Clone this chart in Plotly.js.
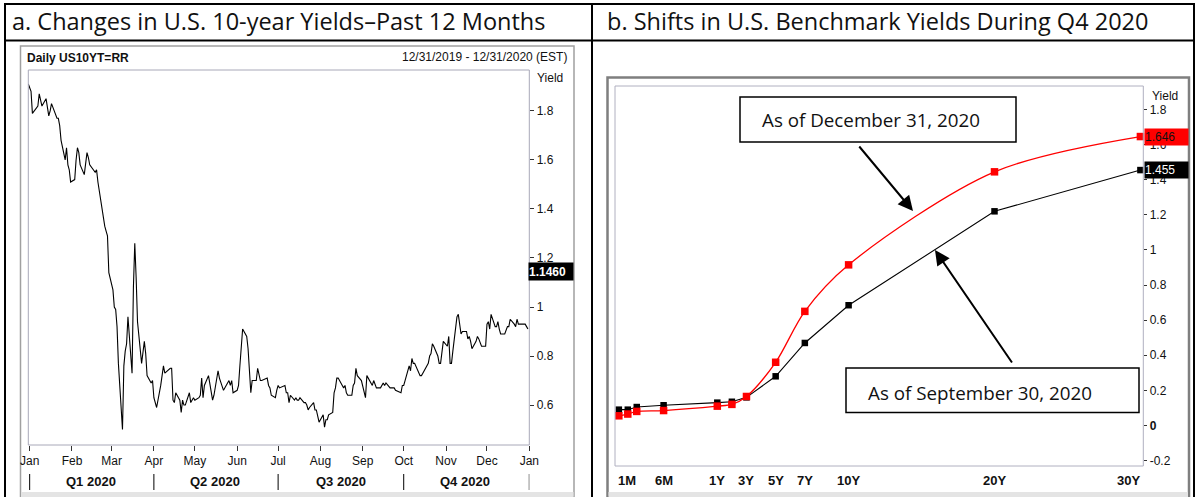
<!DOCTYPE html>
<html>
<head>
<meta charset="utf-8">
<script src="https://cdn.plot.ly/plotly-3.0.1.min.js"></script>
<style>
  html, body { margin: 0; padding: 0; background: #ffffff; }
  #chart { width: 1197px; height: 497px; }
</style>
</head>
<body>
<div id="chart"></div>
<script>
// ---------- Panel a: daily US 10-year yield, 12/31/2019 - 12/31/2020 ----------
const tradingDays = [
  '2019-12-31',
  '2020-01-02','2020-01-03','2020-01-06','2020-01-07','2020-01-08','2020-01-09','2020-01-10','2020-01-13','2020-01-14','2020-01-15','2020-01-16','2020-01-17','2020-01-21','2020-01-22','2020-01-23','2020-01-24','2020-01-27','2020-01-28','2020-01-29','2020-01-30','2020-01-31',
  '2020-02-03','2020-02-04','2020-02-05','2020-02-06','2020-02-07','2020-02-10','2020-02-11','2020-02-12','2020-02-13','2020-02-14','2020-02-18','2020-02-19','2020-02-20','2020-02-21','2020-02-24','2020-02-25','2020-02-26','2020-02-27','2020-02-28',
  '2020-03-02','2020-03-03','2020-03-04','2020-03-05','2020-03-06','2020-03-09','2020-03-10','2020-03-11','2020-03-12','2020-03-13','2020-03-16','2020-03-17','2020-03-18','2020-03-19','2020-03-20','2020-03-23','2020-03-24','2020-03-25','2020-03-26','2020-03-27','2020-03-30','2020-03-31',
  '2020-04-01','2020-04-02','2020-04-03','2020-04-06','2020-04-07','2020-04-08','2020-04-09','2020-04-13','2020-04-14','2020-04-15','2020-04-16','2020-04-17','2020-04-20','2020-04-21','2020-04-22','2020-04-23','2020-04-24','2020-04-27','2020-04-28','2020-04-29','2020-04-30',
  '2020-05-01','2020-05-04','2020-05-05','2020-05-06','2020-05-07','2020-05-08','2020-05-11','2020-05-12','2020-05-13','2020-05-14','2020-05-15','2020-05-18','2020-05-19','2020-05-20','2020-05-21','2020-05-22','2020-05-26','2020-05-27','2020-05-28','2020-05-29',
  '2020-06-01','2020-06-02','2020-06-03','2020-06-04','2020-06-05','2020-06-08','2020-06-09','2020-06-10','2020-06-11','2020-06-12','2020-06-15','2020-06-16','2020-06-17','2020-06-18','2020-06-19','2020-06-22','2020-06-23','2020-06-24','2020-06-25','2020-06-26','2020-06-29','2020-06-30',
  '2020-07-01','2020-07-02','2020-07-06','2020-07-07','2020-07-08','2020-07-09','2020-07-10','2020-07-13','2020-07-14','2020-07-15','2020-07-16','2020-07-17','2020-07-20','2020-07-21','2020-07-22','2020-07-23','2020-07-24','2020-07-27','2020-07-28','2020-07-29','2020-07-30','2020-07-31',
  '2020-08-03','2020-08-04','2020-08-05','2020-08-06','2020-08-07','2020-08-10','2020-08-11','2020-08-12','2020-08-13','2020-08-14','2020-08-17','2020-08-18','2020-08-19','2020-08-20','2020-08-21','2020-08-24','2020-08-25','2020-08-26','2020-08-27','2020-08-28','2020-08-31',
  '2020-09-01','2020-09-02','2020-09-03','2020-09-04','2020-09-08','2020-09-09','2020-09-10','2020-09-11','2020-09-14','2020-09-15','2020-09-16','2020-09-17','2020-09-18','2020-09-21','2020-09-22','2020-09-23','2020-09-24','2020-09-25','2020-09-28','2020-09-29','2020-09-30',
  '2020-10-01','2020-10-02','2020-10-05','2020-10-06','2020-10-07','2020-10-08','2020-10-09','2020-10-13','2020-10-14','2020-10-15','2020-10-16','2020-10-19','2020-10-20','2020-10-21','2020-10-22','2020-10-23','2020-10-26','2020-10-27','2020-10-28','2020-10-29','2020-10-30',
  '2020-11-02','2020-11-03','2020-11-04','2020-11-05','2020-11-06','2020-11-09','2020-11-10','2020-11-12','2020-11-13','2020-11-16','2020-11-17','2020-11-18','2020-11-19','2020-11-20','2020-11-23','2020-11-24','2020-11-25','2020-11-27','2020-11-30',
  '2020-12-01','2020-12-02','2020-12-03','2020-12-04','2020-12-07','2020-12-08','2020-12-09','2020-12-10','2020-12-11','2020-12-14','2020-12-15','2020-12-16','2020-12-17','2020-12-18','2020-12-21','2020-12-22','2020-12-23','2020-12-24','2020-12-28','2020-12-29','2020-12-30','2020-12-31'
];
const dailyYield = [
  1.91,
  1.88,1.79,1.81,1.82,1.87,1.85,1.82,1.85,1.81,1.78,1.80,1.83,1.77,1.77,1.74,1.68,1.60,1.65,1.58,1.56,1.51,
  1.52,1.60,1.65,1.63,1.58,1.54,1.58,1.63,1.61,1.58,1.55,1.56,1.51,1.47,1.37,1.33,1.31,1.29,1.14,
  1.07,1.00,0.99,0.92,0.77,0.50,0.76,0.82,0.85,0.96,0.73,1.08,1.26,1.12,0.94,0.77,0.82,0.86,0.81,0.72,0.69,0.70,
  0.63,0.61,0.59,0.68,0.73,0.76,0.73,0.75,0.75,0.62,0.61,0.65,0.62,0.57,0.62,0.60,0.60,0.65,0.61,0.62,0.63,
  0.62,0.63,0.64,0.71,0.63,0.68,0.72,0.68,0.64,0.62,0.64,0.74,0.71,0.69,0.67,0.66,0.70,0.68,0.70,0.65,
  0.66,0.68,0.76,0.83,0.91,0.88,0.83,0.74,0.65,0.70,0.70,0.75,0.73,0.70,0.70,0.71,0.71,0.68,0.67,0.64,0.63,0.66,
  0.68,0.67,0.68,0.65,0.65,0.61,0.64,0.62,0.63,0.62,0.62,0.63,0.61,0.61,0.60,0.58,0.59,0.61,0.58,0.58,0.55,0.53,
  0.56,0.51,0.54,0.54,0.56,0.57,0.65,0.67,0.71,0.71,0.68,0.67,0.68,0.65,0.64,0.64,0.68,0.69,0.75,0.72,0.70,
  0.68,0.66,0.63,0.72,0.68,0.70,0.68,0.67,0.67,0.68,0.69,0.68,0.69,0.67,0.67,0.67,0.67,0.66,0.65,0.65,0.68,
  0.68,0.70,0.76,0.74,0.79,0.77,0.77,0.72,0.72,0.73,0.74,0.77,0.80,0.81,0.85,0.84,0.80,0.77,0.77,0.83,0.86,
  0.84,0.88,0.77,0.77,0.82,0.96,0.97,0.89,0.90,0.90,0.87,0.88,0.86,0.83,0.86,0.88,0.87,0.84,0.84,
  0.93,0.94,0.91,0.97,0.92,0.92,0.94,0.91,0.89,0.89,0.91,0.92,0.92,0.95,0.93,0.92,0.95,0.93,0.93,0.93,0.92,0.91
];
const lastQuote = 1.1460;
const monthStarts = ['2020-01-01','2020-02-01','2020-03-01','2020-04-01','2020-05-01','2020-06-01','2020-07-01','2020-08-01','2020-09-01','2020-10-01','2020-11-01','2020-12-01','2021-01-01'];
const monthLabels = ['Jan','Feb','Mar','Apr','May','Jun','Jul','Aug','Sep','Oct','Nov','Dec','Jan'];
const quarterLabels = ['Q1 2020','Q2 2020','Q3 2020','Q4 2020'];
const quarterMids = ['2020-02-15','2020-05-16','2020-08-16','2020-11-15'];
const quarterBounds = ['2020-01-01','2020-04-01','2020-07-01','2020-10-01','2021-01-01'];

// ---------- Panel b: Treasury yield curves ----------
const maturityYears = [1/12, 2/12, 3/12, 0.5, 1, 2, 3, 5, 7, 10, 20, 30];
const curveDec31 = [0.055, 0.065, 0.08, 0.085, 0.11, 0.12, 0.165, 0.36, 0.65, 0.915, 1.445, 1.646];
const curveSep30 = [0.09, 0.09, 0.105, 0.115, 0.13, 0.135, 0.16, 0.28, 0.47, 0.685, 1.22, 1.455];
const curveTickLabels = ['1M','6M','1Y','3Y','5Y','7Y','10Y','20Y','30Y'];
const curveTickYears = [1/12, 0.5, 1, 3, 5, 7, 10, 20, 30];
const curveYTicks = [-0.2, 0, 0.2, 0.4, 0.6, 0.8, 1, 1.2, 1.4, 1.6, 1.8];

// Chart's maturity scale: months are stretched, years are linear from 1Y on
function maturityScale(yrs) { return yrs < 1 ? yrs * 12 * 8.95 : 107.4 + (yrs - 1) * 14.59; }

const W = 1197, H = 497;
const px = x => x / W;
const py = y => 1 - y / H;
const NARROW = "'Liberation Sans Narrow', 'Arial Narrow', 'Liberation Sans', Arial, sans-serif";
const TITLEF = "'Open Sans', 'Noto Sans', sans-serif";

const traces = [
  { type: 'scatter', mode: 'lines', x: tradingDays, y: dailyYield, xaxis: 'x', yaxis: 'y',
    line: { color: '#000000', width: 1.1 }, hoverinfo: 'skip' },
  { type: 'scatter', mode: 'lines+markers', x: maturityYears.map(maturityScale), y: curveSep30, xaxis: 'x2', yaxis: 'y2',
    line: { color: '#000000', width: 1.1 }, marker: { symbol: 'square', size: 6.5, color: '#000000' }, hoverinfo: 'skip', cliponaxis: false },
  { type: 'scatter', mode: 'lines+markers', x: maturityYears.map(maturityScale), y: curveDec31, xaxis: 'x2', yaxis: 'y2',
    line: { color: '#ff0000', width: 1.3, shape: 'spline', smoothing: 0.9 }, marker: { symbol: 'square', size: 7.5, color: '#ff0000' }, hoverinfo: 'skip', cliponaxis: false }
];

const shapes = [];
const annotations = [];
function line(x0, y0, x1, y1, color, width) {
  shapes.push({ type: 'line', xref: 'paper', yref: 'paper', x0: px(x0), y0: py(y0), x1: px(x1), y1: py(y1), line: { color: color, width: width } });
}
function rect(x0, y0, x1, y1, color, width, fill) {
  shapes.push({ type: 'rect', xref: 'paper', yref: 'paper', x0: px(x0), y0: py(y0), x1: px(x1), y1: py(y1),
    line: { color: color, width: width }, fillcolor: fill || 'rgba(0,0,0,0)', layer: 'below' });
}
function text(x, y, t, opts) {
  annotations.push(Object.assign({ xref: 'paper', yref: 'paper', x: px(x), y: py(y), text: t, showarrow: false,
    xanchor: 'left', yanchor: 'middle', font: { family: NARROW, size: 12, color: '#111' } }, opts || {}));
}

// table grid
line(5, 4, 1194, 4, '#000', 2);
line(5, 40.5, 1194, 40.5, '#000', 2);
line(5, 3, 5, 497, '#000', 2);
line(592, 3, 592, 497, '#000', 2);
line(1194, 3, 1194, 497, '#000', 2);

// panel a frame
rect(20.5, 46, 574, 497, '#a0a0a0', 1.5);
rect(21, 492, 573.5, 497, 'rgba(0,0,0,0)', 0, '#e4e4e4');
shapes.push({ type: 'rect', xref: 'x domain', yref: 'y domain', x0: 0, x1: 1, y0: 0, y1: 1, line: { color: '#a8a8b8', width: 1 } });
// quarter separators
quarterBounds.forEach(d => shapes.push({ type: 'line', xref: 'x', yref: 'paper', x0: d, x1: d, y0: py(474), y1: py(490), line: { color: '#000', width: 1 } }));

// panel b frame
rect(607.5, 77.5, 1189, 497, '#7f7f7f', 2.5);
rect(608.5, 492, 1188, 497, 'rgba(0,0,0,0)', 0, '#e4e4e4');
shapes.push({ type: 'rect', xref: 'x2 domain', yref: 'y2 domain', x0: 0, x1: 1, y0: 0, y1: 1, line: { color: '#b0b0c0', width: 1 } });
// callout boxes
shapes.push({ type: 'rect', xref: 'paper', yref: 'paper', x0: px(740), y0: py(97), x1: px(1016), y1: py(142), line: { color: '#000', width: 1.5 }, fillcolor: '#ffffff', layer: 'above' });
shapes.push({ type: 'rect', xref: 'paper', yref: 'paper', x0: px(846), y0: py(368), x1: px(1139), y1: py(412.5), line: { color: '#000', width: 1.5 }, fillcolor: '#ffffff', layer: 'above' });

// titles
text(10, 21, 'a. Changes in U.S. 10-year Yields\u2013Past 12 Months', { font: { family: TITLEF, size: 23.5, color: '#111' } });
text(605, 21, 'b. Shifts in U.S. Benchmark Yields During Q4 2020', { font: { family: TITLEF, size: 23.5, color: '#111' } });

// panel a texts
text(25, 58, '<b>Daily US10YT=RR</b>', { font: { family: NARROW, size: 12, color: '#111' } });
text(569, 57, '12/31/2019 - 12/31/2020 (EST)', { xanchor: 'right', font: { family: NARROW, size: 12, color: '#111' } });
text(535, 78, 'Yield', { font: { family: NARROW, size: 12, color: '#111' } });
annotations.push({ xref: 'paper', yref: 'y', x: px(528), y: lastQuote, text: '<b>' + lastQuote.toFixed(4) + '</b>', showarrow: false,
  xanchor: 'left', yanchor: 'middle', bgcolor: '#000', borderpad: 0, width: 44, height: 17, align: 'left',
  font: { family: NARROW, size: 12, color: '#fff' } });
quarterLabels.forEach((q, i) => annotations.push({ xref: 'x', yref: 'paper', x: quarterMids[i], y: py(481.5), text: '<b>' + q + '</b>',
  showarrow: false, xanchor: 'center', yanchor: 'middle', font: { family: NARROW, size: 13, color: '#111' } }));

// panel b texts
text(1150, 96, 'Yield', { font: { family: NARROW, size: 12, color: '#111' } });
annotations.push({ xref: 'paper', yref: 'y2', x: px(1144), y: curveDec31[curveDec31.length - 1], text: curveDec31[curveDec31.length - 1].toFixed(3),
  showarrow: false, xanchor: 'left', yanchor: 'middle', bgcolor: '#ff0000', borderpad: 0, width: 43, height: 16, align: 'left',
  font: { family: NARROW, size: 12, color: '#111' } });
annotations.push({ xref: 'paper', yref: 'y2', x: px(1144), y: curveSep30[curveSep30.length - 1], text: curveSep30[curveSep30.length - 1].toFixed(3),
  showarrow: false, xanchor: 'left', yanchor: 'middle', bgcolor: '#000000', borderpad: 0, width: 43, height: 16, align: 'left',
  font: { family: NARROW, size: 12, color: '#fff' } });
curveTickLabels.forEach((t, i) => {
  const shift = i === 0 ? 8 : (i === curveTickLabels.length - 1 ? -12 : 0);
  annotations.push({ xref: 'x2', yref: 'paper', x: maturityScale(curveTickYears[i]), y: py(480), xshift: shift, text: '<b>' + t + '</b>',
    showarrow: false, xanchor: 'center', yanchor: 'middle', font: { family: NARROW, size: 13, color: '#111' } });
});
text(870.5, 120, 'As of December 31, 2020', { xanchor: 'center', font: { family: TITLEF, size: 18.8, color: '#111' } });
text(979.5, 393, 'As of September 30, 2020', { xanchor: 'center', font: { family: TITLEF, size: 18.8, color: '#111' } });
// arrows
annotations.push({ xref: 'paper', yref: 'paper', x: px(913), y: py(211), ax: -55, ay: -66, text: '', showarrow: true,
  arrowhead: 2, arrowsize: 1.5, arrowwidth: 2, arrowcolor: '#000', standoff: 0 });
annotations.push({ xref: 'paper', yref: 'paper', x: px(935), y: py(250), ax: 78, ay: 114, text: '', showarrow: true,
  arrowhead: 2, arrowsize: 1.5, arrowwidth: 2, arrowcolor: '#000', standoff: 0 });

const layout = {
  width: W, height: H,
  margin: { l: 0, r: 0, t: 0, b: 0, pad: 0 },
  paper_bgcolor: '#ffffff', plot_bgcolor: '#ffffff',
  showlegend: false,
  font: { family: NARROW, size: 12, color: '#111' },
  xaxis: { type: 'date', domain: [px(28.3), px(529.3)], range: ['2019-12-31', '2021-01-01'], anchor: 'y',
    tickmode: 'array', tickvals: monthStarts, ticktext: monthLabels, ticks: 'outside', ticklen: 5, tickcolor: '#333',
    showgrid: false, zeroline: false, showline: false, fixedrange: true, tickfont: { family: NARROW, size: 12, color: '#111' } },
  yaxis: { domain: [py(445), py(70)], range: [0.437, 1.967], anchor: 'x', side: 'right', dtick: 0.2, tick0: 0,
    ticks: 'outside', ticklen: 4, tickcolor: '#333', showgrid: false, zeroline: false, showline: false, fixedrange: true,
    tickfont: { family: NARROW, size: 12, color: '#111' } },
  xaxis2: { domain: [px(615), px(1143.3)], range: [5.1, 533.4], anchor: 'y2', showticklabels: false, ticks: '',
    showgrid: false, zeroline: false, showline: false, fixedrange: true },
  yaxis2: { domain: [py(466), py(86)], range: [-0.231, 1.934], anchor: 'x2', side: 'right',
    tickmode: 'array', tickvals: curveYTicks, ticktext: curveYTicks.map(v => v === 0 ? '<b>0</b>' : String(v)),
    ticks: 'outside', ticklen: 3, tickcolor: '#333', showgrid: false, zeroline: false, showline: false, fixedrange: true,
    tickfont: { family: NARROW, size: 12, color: '#111' } },
  shapes: shapes,
  annotations: annotations
};

Plotly.newPlot('chart', traces, layout, { displayModeBar: false, staticPlot: true });
</script>
</body>
</html>
